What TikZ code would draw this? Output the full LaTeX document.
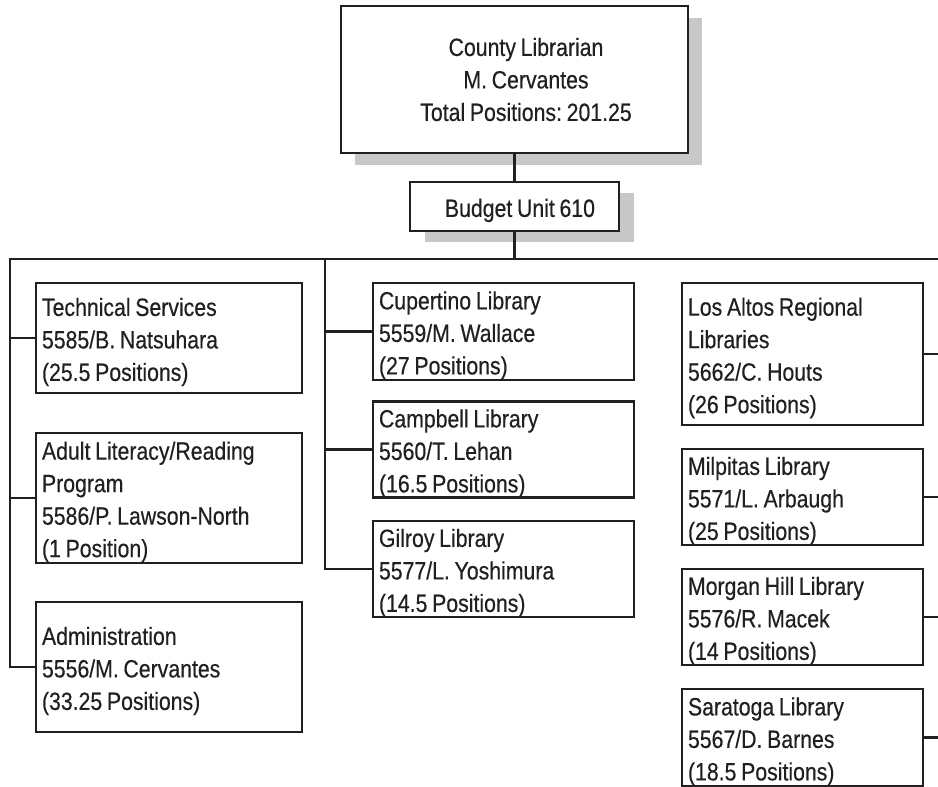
\documentclass[tikz,border=0pt]{standalone}
\usepackage{fontspec}
\usetikzlibrary{shadows}
\newfontfamily\orgfont{Liberation Sans}[FakeStretch=0.85,FakeBold=0.4,WordSpace=0.8]
\definecolor{ink}{HTML}{231F20}
\definecolor{shade}{HTML}{C8C8C8}
\begin{document}
\begin{tikzpicture}[x=1pt,y=-1pt,
  conn/.style={draw=ink,line width=2.8pt},
  orgbox/.style={draw=ink,line width=2.8pt,fill=white,rectangle,
    inner xsep=6pt,inner ysep=0pt,text=ink,
    font=\orgfont\fontsize{25}{32.5}\selectfont\frenchspacing,
    execute at begin node={\rule{0pt}{26pt}}},
  headbox/.style={orgbox,align=center},
  leftbox/.style={orgbox,align=flush left,minimum width=266pt,text width=254pt},
  midbox/.style={orgbox,align=flush left,minimum width=261pt,text width=249pt},
  rightbox/.style={orgbox,align=flush left,minimum width=241pt,text width=229pt},
  boxshadow/.style 2 args={drop shadow={shadow xshift=#1,shadow yshift=#2,
    fill=shade,opacity=1}},
]
\useasboundingbox (0,0) rectangle (938,787);

% head of the department
\node[headbox,minimum width=347pt,minimum height=147pt,boxshadow={14pt}{-12pt}]
  (county) at (514.5,79.5)
  {\hspace*{23pt}County Librarian\\\hspace*{23pt}M. Cervantes\\\hspace*{23pt}Total Positions: 201.25};
\node[headbox,minimum width=209pt,minimum height=49pt,boxshadow={15pt}{-11pt}]
  (budget) at (514.5,206.5) {\hspace*{11pt}Budget Unit 610};

% left column
\node[leftbox,minimum height=110pt] (tech) at (169,338)
  {Technical Services\\5585/B. Natsuhara\\(25.5 Positions)};
\node[leftbox,minimum height=130pt] (adult) at (169,498)
  {Adult Literacy/Reading\\Program\\5586/P. Lawson-North\\(1 Position)};
\node[leftbox,minimum height=130pt] (admin) at (169,667)
  {Administration\\5556/M. Cervantes\\(33.25 Positions)};

% middle column
\node[midbox,minimum height=97pt] (cupertino) at (503.5,331.5)
  {Cupertino Library\\5559/M. Wallace\\(27 Positions)};
\node[midbox,minimum height=95pt] (campbell) at (503.5,449.5)
  {Campbell Library\\5560/T. Lehan\\(16.5 Positions)};
\node[midbox,minimum height=96pt] (gilroy) at (503.5,569)
  {Gilroy Library\\5577/L. Yoshimura\\(14.5 Positions)};

% right column
\node[rightbox,minimum height=142pt] (losaltos) at (802.5,354)
  {Los Altos Regional\\Libraries\\5662/C. Houts\\(26 Positions)};
\node[rightbox,minimum height=96pt] (milpitas) at (802.5,497)
  {Milpitas Library\\5571/L. Arbaugh\\(25 Positions)};
\node[rightbox,minimum height=96pt] (morgan) at (802.5,617)
  {Morgan Hill Library\\5576/R. Macek\\(14 Positions)};
\node[rightbox,minimum height=97pt] (saratoga) at (802.5,737.5)
  {Saratoga Library\\5567/D. Barnes\\(18.5 Positions)};

% bus points
\coordinate (busL) at (10,259);
\coordinate (busM) at (325,259);
\coordinate (busC) at (514.5,259);
\coordinate (busR) at (938,259);

% connectors
\draw[conn] (county.south) -- (budget.north);
\draw[conn] (budget.south) -- (busC);
\draw[conn] (admin.west) -| (busL) -- (busR);
\draw[conn] (busL |- tech.west) -- (tech.west);
\draw[conn] (busL |- adult.west) -- (adult.west);
\draw[conn] (gilroy.west) -| (busM);
\draw[conn] (busM |- cupertino.west) -- (cupertino.west);
\draw[conn] (busM |- campbell.west) -- (campbell.west);
\draw[conn] (losaltos.east) -- (losaltos.east -| busR);
\draw[conn] (milpitas.east) -- (milpitas.east -| busR);
\draw[conn] (morgan.east) -- (morgan.east -| busR);
\draw[conn] (saratoga.east) -- (saratoga.east -| busR);
\end{tikzpicture}
\end{document}
